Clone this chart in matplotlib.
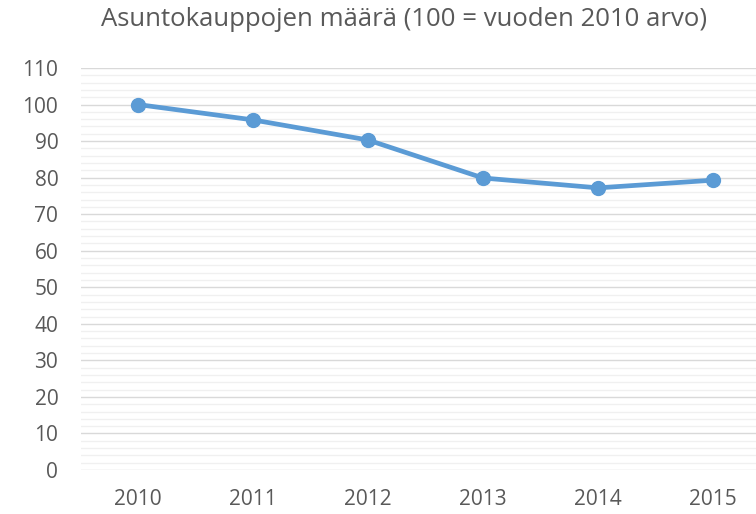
import numpy as np
import matplotlib.pyplot as plt
from matplotlib.ticker import MultipleLocator

plt.rcParams['font.family'] = ['Open Sans', 'DejaVu Sans']

years = ['2010', '2011', '2012', '2013', '2014', '2015']
values = [100.0, 95.8, 90.3, 79.9, 77.2, 79.3]

fig = plt.figure(figsize=(7.56, 5.14), dpi=100)
ax = fig.add_axes([0.1065, 0.0856, 0.9127, 0.7821])

x = np.arange(len(years))
ax.plot(x, values, color='#5B9BD5', linewidth=3.4, marker='o',
        markersize=10, zorder=3, solid_capstyle='round')

ax.set_xlim(-0.5, len(years) - 0.5)
ax.set_ylim(0, 110)
ax.yaxis.set_major_locator(MultipleLocator(10))
ax.yaxis.set_minor_locator(MultipleLocator(2))
ax.set_xticks(x)
ax.set_xticklabels(years)

ax.grid(True, which='major', axis='y', color='#d9d9d9', linewidth=1.0, zorder=0)
ax.grid(True, which='minor', axis='y', color='#f0f0f0', linewidth=1.0, zorder=0)
ax.set_axisbelow(True)

for s in ax.spines.values():
    s.set_visible(False)
ax.tick_params(axis='both', which='both', length=0, colors='#595959', labelsize=15)
ax.tick_params(axis='x', pad=14)
ax.tick_params(axis='y', pad=16)

fig.text(0.534, 0.963, 'Asuntokauppojen määrä (100 = vuoden 2010 arvo)',
         ha='center', va='center', fontsize=18.5, color='#595959')

fig.savefig('out.png', dpi=100)
